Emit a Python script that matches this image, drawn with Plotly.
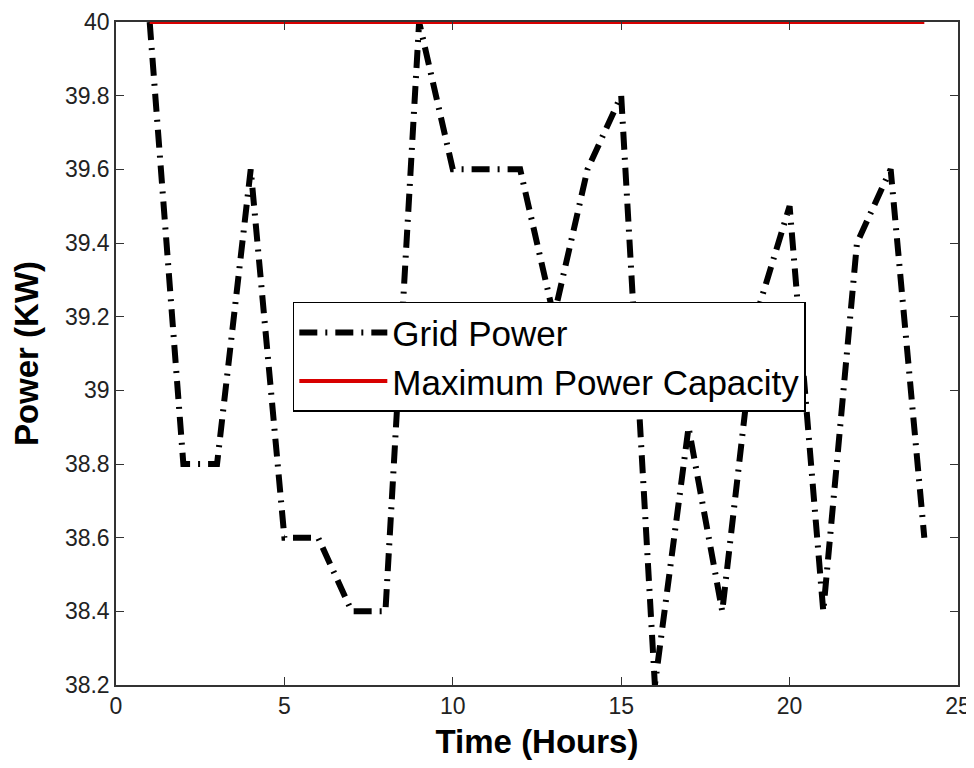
import plotly.graph_objects as go

hours = [1, 2, 3, 4, 5, 6, 7, 8, 9, 10, 11, 12, 13, 14, 15, 16, 17, 18, 19, 20, 21, 22, 23, 24]
grid_power = [40.0, 38.8, 38.8, 39.6, 38.6, 38.6, 38.4, 38.4, 40.0, 39.6, 39.6, 39.6,
              39.2, 39.6, 39.8, 38.2, 38.9, 38.4, 39.2, 39.5, 38.4, 39.4, 39.6, 38.6]
max_capacity = [40.0] * len(hours)

x_ticks = [0, 5, 10, 15, 20, 25]
y_ticks = [38.2, 38.4, 38.6, 38.8, 39.0, 39.2, 39.4, 39.6, 39.8, 40.0]

fig = go.Figure()
fig.add_trace(go.Scatter(
    x=hours, y=grid_power, mode="lines", name="Grid Power",
    line=dict(color="black", width=6, dash="18px,8px,2px,8px"),
))
fig.add_trace(go.Scatter(
    x=hours, y=max_capacity, mode="lines", name="Maximum Power Capacity",
    line=dict(color="#d80000", width=4),
))

axis_common = dict(
    showline=True, linecolor="#333333", linewidth=1.5, mirror="ticks",
    ticks="inside", ticklen=8, tickcolor="#333333", showgrid=False, zeroline=False,
    automargin=False,
    tickfont=dict(family="Liberation Sans, Arial", size=23, color="#222222"),
)
fig.update_xaxes(range=[0, 25], tickvals=x_ticks,
                 title=dict(text="<b>Time (Hours)</b>", standoff=16,
                            font=dict(family="Liberation Sans, Arial", size=33, color="black")),
                 **axis_common)
fig.update_yaxes(range=[38.2, 40], tickvals=y_ticks,
                 ticktext=[("%g" % v) for v in y_ticks],
                 title=dict(text="<b>Power (KW)</b>", standoff=18,
                            font=dict(family="Liberation Sans, Arial", size=33, color="black")),
                 **axis_common)

fig.update_layout(
    width=966, height=752,
    margin=dict(l=108, r=16, t=14, b=75),
    paper_bgcolor="white", plot_bgcolor="white",
    showlegend=True,
    legend=dict(
        x=0.21, y=0.578, xanchor="left", yanchor="top",
        bgcolor="white", bordercolor="black", borderwidth=1.5,
        font=dict(family="Liberation Sans, Arial", size=35, color="black"),
        itemwidth=88, tracegroupgap=0,
    ),
)

fig.write_html("out.html")
